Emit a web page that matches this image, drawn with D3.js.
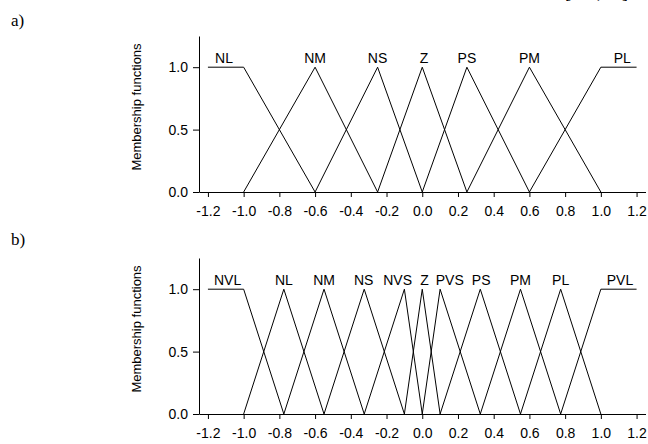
<!DOCTYPE html>
<html>
<head>
<meta charset="utf-8">
<script src="https://cdn.jsdelivr.net/npm/d3@7"></script>
<style>
	body { margin: 0; background: #fff; }
	text { font-family: "Liberation Sans", Arial, sans-serif; }
	.panelLetter { font-family: "Liberation Serif", "Times New Roman", serif; }
</style>
</head>
<body>
<svg width="648" height="444"></svg>
<script>
// ticks shared by both panels
const xTicks = [-1.2, -1.0, -0.8, -0.6, -0.4, -0.2, 0.0, 0.2, 0.4, 0.6, 0.8, 1.0, 1.2];
const yTicks = [0.0, 0.5, 1.0];

// a) seven fuzzy sets
const topNames = ['NL', 'NM', 'NS', 'Z', 'PS', 'PM', 'PL'];
const topShapes = [
	[[-1.2, 1], [-1.0, 1], [-0.6, 0]],
	[[-1.0, 0], [-0.6, 1], [-0.25, 0]],
	[[-0.6, 0], [-0.25, 1], [0.0, 0]],
	[[-0.25, 0], [0.0, 1], [0.25, 0]],
	[[0.0, 0], [0.25, 1], [0.6, 0]],
	[[0.25, 0], [0.6, 1], [1.0, 0]],
	[[0.6, 0], [1.0, 1], [1.2, 1]]
];
const topLabelAt = [-1.11, -0.6, -0.25, 0.01, 0.25, 0.6, 1.12];

// b) eleven fuzzy sets
const bottomNames = ['NVL', 'NL', 'NM', 'NS', 'NVS', 'Z', 'PVS', 'PS', 'PM', 'PL', 'PVL'];
const bottomShapes = [
	[[-1.2, 1], [-1.0, 1], [-0.775, 0]],
	[[-1.0, 0], [-0.775, 1], [-0.55, 0]],
	[[-0.775, 0], [-0.55, 1], [-0.325, 0]],
	[[-0.55, 0], [-0.325, 1], [-0.1, 0]],
	[[-0.325, 0], [-0.1, 1], [0.0, 0]],
	[[-0.1, 0], [0.0, 1], [0.1, 0]],
	[[0.0, 0], [0.1, 1], [0.325, 0]],
	[[0.1, 0], [0.325, 1], [0.55, 0]],
	[[0.325, 0], [0.55, 1], [0.775, 0]],
	[[0.55, 0], [0.775, 1], [1.0, 0]],
	[[0.775, 0], [1.0, 1], [1.2, 1]]
];
const bottomLabelAt = [-1.09, -0.775, -0.55, -0.328, -0.138, 0.013, 0.154, 0.33, 0.55, 0.775, 1.107];

(function() {
	const svg = d3.select('svg');

	const x = d3.scaleLinear()
		.domain([-1.25, 1.25])
		.range([199, 645.5]);

	const line = d3.line();

	function drawPanel(base, top, names, shapes, labelAt, letter, letterY) {
		const y = d3.scaleLinear()
			.domain([0, 1.25])
			.range([base, top]);

		svg.append('text')
			.attr('class', 'panelLetter')
			.attr('x', 11)
			.attr('y', letterY)
			.attr('font-size', 17)
			.text(letter);

		const xAxis = svg.append('g')
			.attr('transform', `translate(0, ${base})`)
			.call(d3.axisBottom(x)
				.tickValues(xTicks)
				.tickFormat(d => d.toFixed(1))
				.tickSize(5)
				.tickSizeOuter(0)
				.tickPadding(9));

		const yAxis = svg.append('g')
			.attr('transform', `translate(199, 0)`)
			.call(d3.axisLeft(y)
				.tickValues(yTicks)
				.tickFormat(d => d.toFixed(1))
				.tickSize(6)
				.tickSizeOuter(0)
				.tickPadding(5));

		[xAxis, yAxis].forEach(a => {
			a.selectAll('text')
				.attr('font-family', '"Liberation Sans", Arial, sans-serif')
				.attr('font-size', 14)
				.attr('fill', '#000');
			a.selectAll('path, line').attr('stroke', '#000');
		});

		svg.append('text')
			.attr('transform', `translate(141, ${(base + top) / 2 - 7}) rotate(-90)`)
			.attr('text-anchor', 'middle')
			.attr('font-size', 13)
			.text('Membership functions');

		svg.append('g')
			.selectAll('path')
			.data(shapes)
			.join('path')
				.attr('d', d => line(d.map(p => [x(p[0]), y(p[1])])))
				.attr('fill', 'none')
				.attr('stroke', '#000')
				.attr('stroke-width', 1);

		svg.append('g')
			.selectAll('text')
			.data(names)
			.join('text')
				.attr('x', (d, i) => x(labelAt[i]))
				.attr('y', y(1) - 4)
				.attr('text-anchor', 'middle')
				.attr('font-size', 14)
				.text(d => d);
	}

	drawPanel(192, 36, topNames, topShapes, topLabelAt, 'a)', 26);
	drawPanel(414, 258, bottomNames, bottomShapes, bottomLabelAt, 'b)', 245);

	// caption from the page above, only its bottom edge shows
	svg.append('text')
		.attr('class', 'panelLetter')
		.attr('x', 565)
		.attr('y', -2)
		.attr('font-size', 18)
		.attr('textLength', 63)
		.text('[−1, 1]');
})();
</script>
</body>
</html>
